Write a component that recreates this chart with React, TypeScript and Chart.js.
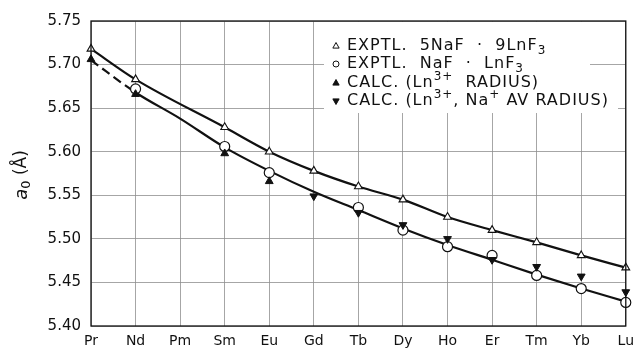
import React, { useEffect, useRef } from "react";
import { Chart, registerables } from "chart.js";

Chart.register(...registerables);

const elements = ["Pr", "Nd", "Pm", "Sm", "Eu", "Gd", "Tb", "Dy", "Ho", "Er", "Tm", "Yb", "Lu"];
const yTicks = [5.4, 5.45, 5.5, 5.55, 5.6, 5.65, 5.7, 5.75];

// EXPTL. 5NaF·9LnF3 (open triangles)
const expt5NaF = [5.718, 5.683, null, 5.628, 5.6, 5.578, 5.56, 5.545, 5.525, 5.51, 5.496, 5.481, 5.467];
// EXPTL. NaF·LnF3 (open circles)
const exptNaF = [null, 5.672, null, 5.606, 5.576, null, 5.536, 5.51, 5.491, 5.481, 5.458, 5.443, 5.427];
// Curve drawn through the NaF·LnF3 data
const naFCurve = [5.705, 5.668, 5.638, 5.605, 5.578, 5.554, 5.533, 5.512, 5.493, 5.476, 5.459, 5.443, 5.428];
// CALC. (Ln3+ radius) filled up triangles
const calcLn = [5.706, 5.666, null, 5.598, 5.566, null, null, null, null, null, null, null, null];
// CALC. (Ln3+, Na+ av radius) filled down triangles
const calcAv = [null, null, null, null, null, 5.549, 5.53, 5.516, 5.5, 5.476, 5.468, 5.457, 5.439];

type Seg = { t: string; m: "n" | "sub" | "sup" };
const legendRows: { sym: string; segs: Seg[] }[] = [
  { sym: "openUp", segs: [{ t: "EXPTL.  5NaF  ·  9LnF", m: "n" }, { t: "3", m: "sub" }] },
  { sym: "openCircle", segs: [{ t: "EXPTL.  NaF  ·  LnF", m: "n" }, { t: "3", m: "sub" }] },
  { sym: "filledUp", segs: [{ t: "CALC. (Ln", m: "n" }, { t: "3+", m: "sup" }, { t: "  RADIUS)", m: "n" }] },
  {
    sym: "filledDown",
    segs: [
      { t: "CALC. (Ln", m: "n" },
      { t: "3+", m: "sup" },
      { t: ", Na", m: "n" },
      { t: "+", m: "sup" },
      { t: " AV RADIUS)", m: "n" },
    ],
  },
];

const FONT = "'DejaVu Sans', sans-serif";
const INK = "#111";

function drawTri(ctx: CanvasRenderingContext2D, x: number, y: number, r: number, down: boolean, filled: boolean) {
  ctx.beginPath();
  const s = down ? -1 : 1;
  ctx.moveTo(x, y - s * r);
  ctx.lineTo(x - r * 0.9, y + s * r * 0.6);
  ctx.lineTo(x + r * 0.9, y + s * r * 0.6);
  ctx.closePath();
  ctx.fillStyle = filled ? INK : "#fff";
  ctx.fill();
  ctx.strokeStyle = INK;
  ctx.lineWidth = 1;
  ctx.stroke();
}

const legendPlugin = {
  id: "customLegend",
  beforeDatasetsDraw(chart: any) {
    const ctx: CanvasRenderingContext2D = chart.ctx;
    const area = chart.chartArea;
    ctx.save();
    // white box behind legend
    ctx.fillStyle = "#fff";
    ctx.fillRect(324, area.top + 1, 266, 72);
    ctx.fillRect(324, area.top + 72, 294, 20);
    const x0 = 336;
    const tx = 347;
    const rowY = [46, 64, 83, 101];
    legendRows.forEach((row, i) => {
      const y = rowY[i];
      if (row.sym === "openUp") drawTri(ctx, x0, y, 3.5, false, false);
      if (row.sym === "filledUp") drawTri(ctx, x0, y, 3.5, false, true);
      if (row.sym === "filledDown") drawTri(ctx, x0, y, 3.5, true, true);
      if (row.sym === "openCircle") {
        ctx.beginPath();
        ctx.arc(x0, y, 3, 0, Math.PI * 2);
        ctx.fillStyle = "#fff";
        ctx.fill();
        ctx.strokeStyle = INK;
        ctx.lineWidth = 1;
        ctx.stroke();
      }
      let x = tx;
      ctx.fillStyle = INK;
      ctx.textBaseline = "middle";
      ctx.textAlign = "left";
      (ctx as any).letterSpacing = "1px";
      row.segs.forEach((s) => {
        let dy = 0;
        if (s.m === "n") ctx.font = `16px ${FONT}`;
        else {
          ctx.font = `12px ${FONT}`;
          dy = s.m === "sub" ? 5 : -6;
        }
        ctx.fillText(s.t, x, y + dy);
        x += ctx.measureText(s.t).width;
      });
      (ctx as any).letterSpacing = "0px";
    });
    ctx.restore();
  },
  afterDraw(chart: any) {
    const ctx: CanvasRenderingContext2D = chart.ctx;
    const a = chart.chartArea;
    ctx.save();
    ctx.strokeStyle = INK;
    ctx.lineWidth = 1.3;
    ctx.strokeRect(a.left, a.top, a.right - a.left, a.bottom - a.top);
    // y-axis title: a0 (Å)
    ctx.translate(22, 175);
    ctx.rotate(-Math.PI / 2);
    ctx.fillStyle = INK;
    ctx.textBaseline = "middle";
    ctx.textAlign = "left";
    const parts: Seg[] = [
      { t: "a", m: "n" },
      { t: "0", m: "sub" },
      { t: " (Å)", m: "n" },
    ];
    const fontFor = (p: Seg) =>
      p.m === "n" ? (p.t === "a" ? `italic 18px ${FONT}` : `17px ${FONT}`) : `13px ${FONT}`;
    let total = 0;
    parts.forEach((p) => {
      ctx.font = fontFor(p);
      total += ctx.measureText(p.t).width;
    });
    let x = -total / 2;
    parts.forEach((p) => {
      ctx.font = fontFor(p);
      ctx.fillText(p.t, x, p.m === "sub" ? 5 : 0);
      x += ctx.measureText(p.t).width;
    });
    ctx.restore();
  },
};

export default function App() {
  const ref = useRef<HTMLCanvasElement | null>(null);
  useEffect(() => {
    if (!ref.current) return;
    const chart = new Chart(ref.current, {
      type: "line",
      data: {
        labels: elements,
        datasets: [
          {
            label: "EXPTL. 5NaF·9LnF3",
            data: expt5NaF,
            borderColor: INK,
            borderWidth: 2.2,
            tension: 0.4,
            cubicInterpolationMode: "monotone",
            spanGaps: true,
            pointStyle: "triangle",
            pointRadius: 4.5,
            pointBackgroundColor: "#fff",
            pointBorderColor: INK,
            pointBorderWidth: 1.1,
            order: 2,
          },
          {
            label: "NaF·LnF3 curve",
            data: naFCurve,
            borderColor: INK,
            borderWidth: 2.2,
            cubicInterpolationMode: "monotone",
            pointRadius: 0,
            segment: {
              borderDash: (c: any) => (c.p0DataIndex === 0 ? [9, 5] : undefined),
            },
            order: 3,
          },
          {
            label: "EXPTL. NaF·LnF3",
            data: exptNaF,
            showLine: false,
            pointStyle: "circle",
            pointRadius: 5,
            pointBackgroundColor: "#fff",
            pointBorderColor: INK,
            pointBorderWidth: 1.2,
            order: 1,
          },
          {
            label: "CALC. (Ln3+ RADIUS)",
            data: calcLn,
            showLine: false,
            pointStyle: "triangle",
            pointRadius: 4.5,
            pointBackgroundColor: INK,
            pointBorderColor: INK,
            pointBorderWidth: 1,
            order: 0,
          },
          {
            label: "CALC. (Ln3+, Na+ AV RADIUS)",
            data: calcAv,
            showLine: false,
            pointStyle: "triangle",
            pointRotation: 180,
            pointRadius: 4.5,
            pointBackgroundColor: INK,
            pointBorderColor: INK,
            pointBorderWidth: 1,
            order: 0,
          },
        ],
      },
      options: {
        responsive: false,
        animation: false,
        devicePixelRatio: 1,
        layout: { padding: { left: 0, right: 12, top: 21, bottom: 0 } },
        plugins: { legend: { display: false }, tooltip: { enabled: false } },
        scales: {
          x: {
            offset: false,
            border: { display: false },
            grid: { color: "#8f8f8f", lineWidth: 0.8, drawTicks: false },
            ticks: { autoSkip: false, maxRotation: 0, color: INK, font: { family: FONT, size: 14 }, padding: 7 },
            afterFit: (s: any) => {
              s.height = 27;
            },
          },
          y: {
            min: 5.4,
            max: 5.75,
            border: { display: false },
            grid: { color: "#8f8f8f", lineWidth: 0.8, drawTicks: false },
            afterBuildTicks: (s: any) => {
              s.ticks = yTicks.map((v) => ({ value: v }));
            },
            ticks: {
              color: INK,
              font: { family: FONT, size: 15 },
              padding: 10,
              callback: (v: any) => Number(v).toFixed(2),
            },
            afterFit: (s: any) => {
              s.width = 91;
            },
          },
        },
      },
      plugins: [legendPlugin],
    });
    return () => chart.destroy();
  }, []);
  return (
    <div style={{ position: "fixed", left: 0, top: 0, width: 641, height: 353, background: "#fff" }}>
      <canvas ref={ref} width={641} height={353} />
    </div>
  );
}
